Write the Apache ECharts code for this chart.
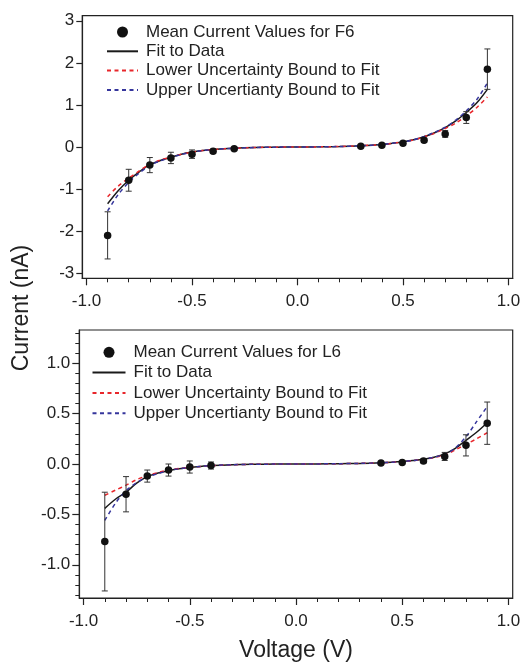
<!DOCTYPE html>
<html>
<head>
<meta charset="utf-8">
<script src="https://cdn.jsdelivr.net/npm/echarts@6/dist/echarts.min.js"></script>
<style>
  html, body { margin: 0; padding: 0; background: #fff; }
  #chart { width: 525px; height: 663px; }
</style>
</head>
<body>
<div id="chart"></div>
<script>
// measured points (voltage, mean current, half error bar)
var voltsF6 = [-0.9, -0.8, -0.7, -0.6, -0.5, -0.4, -0.3, 0.3, 0.4, 0.5, 0.6, 0.7, 0.8, 0.9];
var meanF6 = [-2.10, -0.79, -0.43, -0.26, -0.17, -0.10, -0.04, 0.02, 0.04, 0.09, 0.16, 0.31, 0.70, 1.85];
var errF6 = [0.56, 0.26, 0.18, 0.135, 0.10, 0.05, 0.02, 0.02, 0.02, 0.04, 0.05, 0.08, 0.14, 0.48];

var voltsL6 = [-0.9, -0.8, -0.7, -0.6, -0.5, -0.4, 0.4, 0.5, 0.6, 0.7, 0.8, 0.9];
var meanL6 = [-0.77, -0.30, -0.12, -0.06, -0.03, -0.015, 0.01, 0.015, 0.03, 0.075, 0.185, 0.405];
var errL6 = [0.49, 0.175, 0.06, 0.06, 0.06, 0.035, 0.01, 0.01, 0.02, 0.04, 0.105, 0.21];

// fit curves
var fitV = [-0.9, -0.85, -0.8, -0.75, -0.7, -0.65, -0.6, -0.55, -0.5, -0.45, -0.4, -0.3, -0.2, -0.1, 0,
            0.1, 0.2, 0.3, 0.4, 0.45, 0.5, 0.55, 0.6, 0.65, 0.7, 0.75, 0.8, 0.85, 0.9];
var fitF6 = [-1.35, -1.04, -0.79, -0.59, -0.42, -0.32, -0.245, -0.17, -0.12, -0.085, -0.06, -0.03, -0.012, -0.003, 0,
             0.003, 0.012, 0.03, 0.06, 0.09, 0.12, 0.17, 0.245, 0.34, 0.46, 0.62, 0.82, 1.05, 1.37];
var lowF6 = [-1.18, -0.93, -0.74, -0.57, -0.41, -0.31, -0.24, -0.17, -0.12, -0.085, -0.06, -0.03, -0.012, -0.003, 0,
             0.003, 0.012, 0.03, 0.06, 0.09, 0.12, 0.17, 0.245, 0.33, 0.44, 0.57, 0.74, 0.94, 1.19];
var upF6 = [-1.52, -1.13, -0.84, -0.62, -0.44, -0.33, -0.25, -0.175, -0.12, -0.085, -0.06, -0.03, -0.012, -0.003, 0,
            0.003, 0.012, 0.03, 0.06, 0.09, 0.12, 0.17, 0.25, 0.35, 0.47, 0.64, 0.86, 1.13, 1.52];

var fitL6 = [-0.44, -0.35, -0.28, -0.19, -0.125, -0.09, -0.066, -0.047, -0.034, -0.024, -0.016, -0.007, -0.003, -0.001, 0,
             0.001, 0.003, 0.006, 0.012, 0.017, 0.024, 0.034, 0.047, 0.068, 0.10, 0.155, 0.235, 0.315, 0.41];
var lowL6 = [-0.31, -0.26, -0.21, -0.155, -0.115, -0.085, -0.06, -0.045, -0.033, -0.024, -0.017, -0.007, -0.003, -0.001, 0,
             0.001, 0.003, 0.006, 0.012, 0.017, 0.024, 0.034, 0.045, 0.065, 0.09, 0.14, 0.195, 0.25, 0.31];
var upL6 = [-0.56, -0.39, -0.265, -0.185, -0.13, -0.095, -0.066, -0.047, -0.034, -0.024, -0.016, -0.007, -0.003, -0.001, 0,
            0.001, 0.003, 0.006, 0.012, 0.017, 0.024, 0.034, 0.047, 0.068, 0.095, 0.16, 0.27, 0.42, 0.57];

// tick labels
var xMajor = [-1, -0.5, 0, 0.5, 1];
var xMinor = [-1, -0.9, -0.8, -0.7, -0.6, -0.5, -0.4, -0.3, -0.2, -0.1, 0, 0.1, 0.2, 0.3, 0.4, 0.5, 0.6, 0.7, 0.8, 0.9, 1];
var yMajorTop = [-3, -2, -1, 0, 1, 2, 3];
var yMajorBot = [-1, -0.5, 0, 0.5, 1];
var yMinorBot = [-1.3, -1.2, -1.1, -1, -0.9, -0.8, -0.7, -0.6, -0.5, -0.4, -0.3, -0.2, -0.1, 0,
                 0.1, 0.2, 0.3, 0.4, 0.5, 0.6, 0.7, 0.8, 0.9, 1, 1.1, 1.2, 1.3];

var FONT = 'Liberation Sans';
var INK = '#222';

function zip(a, b) { return a.map(function (v, i) { return [v, b[i]]; }); }
function bars(v, m, e) { return v.map(function (x, i) { return [x, m[i] - e[i], m[i] + e[i]]; }); }

function renderErr(params, api) {
  var x = api.value(0);
  var top = api.coord([x, api.value(2)]);
  var bot = api.coord([x, api.value(1)]);
  var st = { stroke: '#333', lineWidth: 1 };
  return {
    type: 'group',
    children: [
      { type: 'line', shape: { x1: top[0], y1: top[1], x2: bot[0], y2: bot[1] }, style: st },
      { type: 'line', shape: { x1: top[0] - 3, y1: top[1], x2: top[0] + 3, y2: top[1] }, style: st },
      { type: 'line', shape: { x1: bot[0] - 3, y1: bot[1], x2: bot[0] + 3, y2: bot[1] }, style: st }
    ]
  };
}

function xAxes(grid, withName) {
  return [{
    type: 'value', gridIndex: grid, min: -1.02, max: 1.02, position: 'bottom',
    axisLine: { show: true, onZero: false, lineStyle: { color: INK, width: 1.2 } },
    axisTick: { show: true, customValues: xMajor, length: 7, lineStyle: { color: INK, width: 1.2 } },
    axisLabel: { customValues: xMajor, margin: 14.5, fontSize: 17, fontFamily: FONT, color: INK,
      formatter: function (v) { return v.toFixed(1); } },
    splitLine: { show: false },
    name: withName ? 'Voltage (V)' : '', nameLocation: 'middle', nameGap: 41,
    nameTextStyle: { fontSize: 23, fontFamily: FONT, color: INK }
  }, {
    type: 'value', gridIndex: grid, min: -1.02, max: 1.02, position: 'bottom',
    axisLine: { show: false, onZero: false },
    axisTick: { show: true, customValues: xMinor, length: 4, lineStyle: { color: INK, width: 1 } },
    axisLabel: { show: false }, splitLine: { show: false }
  }];
}

function lineSeries(name, xi, data, color, dashed) {
  return {
    type: 'line', name: name, xAxisIndex: xi, yAxisIndex: xi, data: data,
    symbol: 'none', smooth: 0.3, silent: true, z: 3,
    lineStyle: { color: color, width: 1.5, type: dashed ? [4, 3.5] : 'solid' },
    itemStyle: { color: color }
  };
}

// line entries in the legend: keep the line, hide the marker
var legendLines = ['Fit to Data', 'Lower Uncertainty Bound to Fit', 'Upper Uncertianty Bound to Fit'].map(function (n) {
  return { name: n, itemStyle: { opacity: 0 } };
});

var chart = echarts.init(document.getElementById('chart'));
chart.setOption({
  animation: false,
  backgroundColor: '#fff',
  grid: [
    { left: 82.3, top: 15.7, width: 430.4, height: 262.6, show: true, borderColor: INK, borderWidth: 1.2 },
    { left: 79.3, top: 330, width: 433.4, height: 273.3, show: true, borderColor: INK, borderWidth: 1.2 }
  ],
  xAxis: xAxes(0, false).concat(xAxes(1, true)),
  yAxis: [{
    type: 'value', gridIndex: 0, min: -3.12, max: 3.12, position: 'left',
    axisLine: { show: true, onZero: false, lineStyle: { color: INK, width: 1.2 } },
    axisTick: { show: true, customValues: yMajorTop, length: 6, lineStyle: { color: INK, width: 1.2 } },
    axisLabel: { customValues: yMajorTop, margin: 8, fontSize: 17, fontFamily: FONT, color: INK },
    splitLine: { show: false }
  }, {
    type: 'value', gridIndex: 0, min: -3.12, max: 3.12, show: false
  }, {
    type: 'value', gridIndex: 1, min: -1.33, max: 1.33, position: 'left',
    axisLine: { show: true, onZero: false, lineStyle: { color: INK, width: 1.2 } },
    axisTick: { show: true, customValues: yMajorBot, length: 7, lineStyle: { color: INK, width: 1.2 } },
    axisLabel: { customValues: yMajorBot, margin: 9, fontSize: 17, fontFamily: FONT, color: INK,
      formatter: function (v) { return v.toFixed(1); } },
    splitLine: { show: false }
  }, {
    type: 'value', gridIndex: 1, min: -1.33, max: 1.33, position: 'left',
    axisLine: { show: false, onZero: false },
    axisTick: { show: true, customValues: yMinorBot, length: 4, lineStyle: { color: INK, width: 1 } },
    axisLabel: { show: false }, splitLine: { show: false }
  }],
  legend: [{
    left: 106, top: 23.5, padding: 0, orient: 'vertical', itemWidth: 31, itemHeight: 11, itemGap: 2.3,
    selectedMode: false,
    textStyle: { fontSize: 17, fontFamily: FONT, color: INK, lineHeight: 17, padding: [0, 0, 0, 3] },
    data: ['Mean Current Values for F6'].concat(legendLines)
  }, {
    left: 91.5, top: 343.8, padding: 0, orient: 'vertical', itemWidth: 33, itemHeight: 11, itemGap: 3.3,
    selectedMode: false,
    textStyle: { fontSize: 17, fontFamily: FONT, color: INK, lineHeight: 17, padding: [0, 0, 0, 3] },
    data: ['Mean Current Values for L6'].concat(legendLines)
  }],
  graphic: [{
    type: 'text', x: 22, y: 308, rotation: Math.PI / 2,
    style: { text: 'Current (nA)', font: '23px "Liberation Sans"', fill: INK, align: 'center', verticalAlign: 'middle' }
  }],
  series: [
    lineSeries('Fit to Data', 0, zip(fitV, fitF6), '#1a1a1a', false),
    lineSeries('Lower Uncertainty Bound to Fit', 0, zip(fitV, lowF6), '#e8262b', true),
    lineSeries('Upper Uncertianty Bound to Fit', 0, zip(fitV, upF6), '#35359c', true),
    { type: 'custom', xAxisIndex: 0, yAxisIndex: 0, renderItem: renderErr, data: bars(voltsF6, meanF6, errF6), silent: true, z: 4 },
    { type: 'scatter', name: 'Mean Current Values for F6', xAxisIndex: 0, yAxisIndex: 0, data: zip(voltsF6, meanF6),
      symbolSize: 7.5, itemStyle: { color: '#111', opacity: 1 }, silent: true, z: 5 },

    lineSeries('Fit to Data', 2, zip(fitV, fitL6), '#1a1a1a', false),
    lineSeries('Lower Uncertainty Bound to Fit', 2, zip(fitV, lowL6), '#e8262b', true),
    lineSeries('Upper Uncertianty Bound to Fit', 2, zip(fitV, upL6), '#35359c', true),
    { type: 'custom', xAxisIndex: 2, yAxisIndex: 2, renderItem: renderErr, data: bars(voltsL6, meanL6, errL6), silent: true, z: 4 },
    { type: 'scatter', name: 'Mean Current Values for L6', xAxisIndex: 2, yAxisIndex: 2, data: zip(voltsL6, meanL6),
      symbolSize: 7.5, itemStyle: { color: '#111', opacity: 1 }, silent: true, z: 5 }
  ]
});
</script>
</body>
</html>
